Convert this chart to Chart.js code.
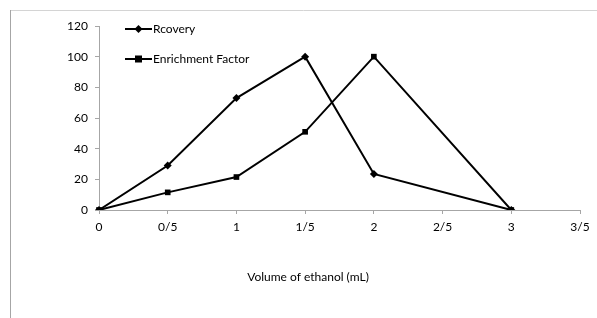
<!DOCTYPE html>
<html>
<head>
<meta charset="utf-8">
<script src="https://cdn.jsdelivr.net/npm/chart.js@4/dist/chart.umd.min.js"></script>
<style>
html,body{margin:0;padding:0;background:#fff;}
#wrap{width:597px;height:318px;position:relative;}
</style>
</head>
<body>
<div id="wrap"><canvas id="c" width="597" height="318"></canvas></div>
<script>
const categories = ["0", "0/5", "1", "1/5", "2", "2/5", "3", "3/5"];
const recovery = [0, 29, 73, 100, 23.5, null, 0, null];
const enrichment = [0, 11.5, 21.5, 51, 100, null, 0, null];
const yTicks = [0, 20, 40, 60, 80, 100, 120];
const seriesNames = ["Rcovery", "Enrichment Factor"];
const xTitle = "Volume of ethanol (mL)";

const FONT = "Lato, 'Open Sans', sans-serif";

const framePlugin = {
  id: 'frame',
  beforeDraw(chart) {
    const ctx = chart.ctx;
    ctx.save();
    ctx.fillStyle = '#fff';
    ctx.fillRect(0, 0, chart.width, chart.height);
    ctx.strokeStyle = '#d4d4d4';
    ctx.lineWidth = 1;
    ctx.beginPath();
    ctx.moveTo(10, 10.5);
    ctx.lineTo(chart.width, 10.5);
    ctx.stroke();
    ctx.strokeStyle = '#a6a6a6';
    ctx.beginPath();
    ctx.moveTo(10.5, 10);
    ctx.lineTo(10.5, chart.height);
    ctx.stroke();
    ctx.restore();
  }
};

const legendPlugin = {
  id: 'customLegend',
  afterDraw(chart) {
    const ctx = chart.ctx;
    ctx.save();
    const rows = [29, 59];
    chart.data.datasets.forEach((ds, i) => {
      const y = rows[i];
      ctx.strokeStyle = '#000';
      ctx.lineWidth = 2;
      ctx.beginPath();
      ctx.moveTo(125, y);
      ctx.lineTo(152, y);
      ctx.stroke();
      ctx.fillStyle = '#000';
      const cx = 138.5;
      if (ds.pointStyle === 'rectRot') {
        ctx.beginPath();
        ctx.moveTo(cx, y - 4);
        ctx.lineTo(cx + 4, y);
        ctx.lineTo(cx, y + 4);
        ctx.lineTo(cx - 4, y);
        ctx.closePath();
        ctx.fill();
      } else {
        ctx.fillRect(cx - 3.5, y - 3.5, 7, 7);
      }
      ctx.font = "12px " + FONT;
      ctx.textBaseline = 'middle';
      ctx.textAlign = 'left';
      ctx.fillText(ds.label, 153, y);
    });
    // x-axis title (placed as in the reference, left of chart-area centre)
    ctx.font = "12px " + FONT;
    ctx.textAlign = 'center';
    ctx.textBaseline = 'middle';
    ctx.fillText(xTitle, 308, 277);
    ctx.restore();
  }
};

new Chart(document.getElementById('c'), {
  type: 'line',
  data: {
    labels: categories,
    datasets: [
      {
        label: seriesNames[0],
        data: recovery,
        borderColor: '#000',
        backgroundColor: '#000',
        borderWidth: 2,
        pointStyle: 'rectRot',
        pointRadius: 4,
        pointBorderWidth: 0,
        spanGaps: true,
        tension: 0
      },
      {
        label: seriesNames[1],
        data: enrichment,
        borderColor: '#000',
        backgroundColor: '#000',
        borderWidth: 2,
        pointStyle: 'rect',
        pointRadius: 4,
        pointBorderWidth: 0,
        spanGaps: true,
        tension: 0
      }
    ]
  },
  options: {
    responsive: false,
    animation: false,
    layout: { padding: { left: 0, right: 17, top: 26, bottom: 0 } },
    plugins: {
      legend: { display: false },
      tooltip: { enabled: false }
    },
    scales: {
      x: {
        type: 'category',
        offset: false,
        border: { color: '#a6a6a6', width: 1 },
        grid: { drawOnChartArea: false, drawTicks: true, tickLength: 4, color: '#a6a6a6' },
        ticks: {
          color: '#000', padding: 6, maxRotation: 0, autoSkip: false,
          font: { family: FONT, size: 12 }
        },
        title: { display: false },
        afterFit(scale) { scale.height = 108; }
      },
      y: {
        min: 0, max: 120,
        border: { color: '#a6a6a6', width: 1 },
        grid: { drawOnChartArea: false, drawTicks: true, tickLength: 4, color: '#a6a6a6' },
        afterBuildTicks(scale) { scale.ticks = yTicks.map(v => ({ value: v })); },
        ticks: {
          color: '#000', padding: 7,
          font: { family: FONT, size: 12 }
        },
        afterFit(scale) { scale.width = 99; }
      }
    }
  },
  plugins: [framePlugin, legendPlugin]
});
</script>
</body>
</html>
